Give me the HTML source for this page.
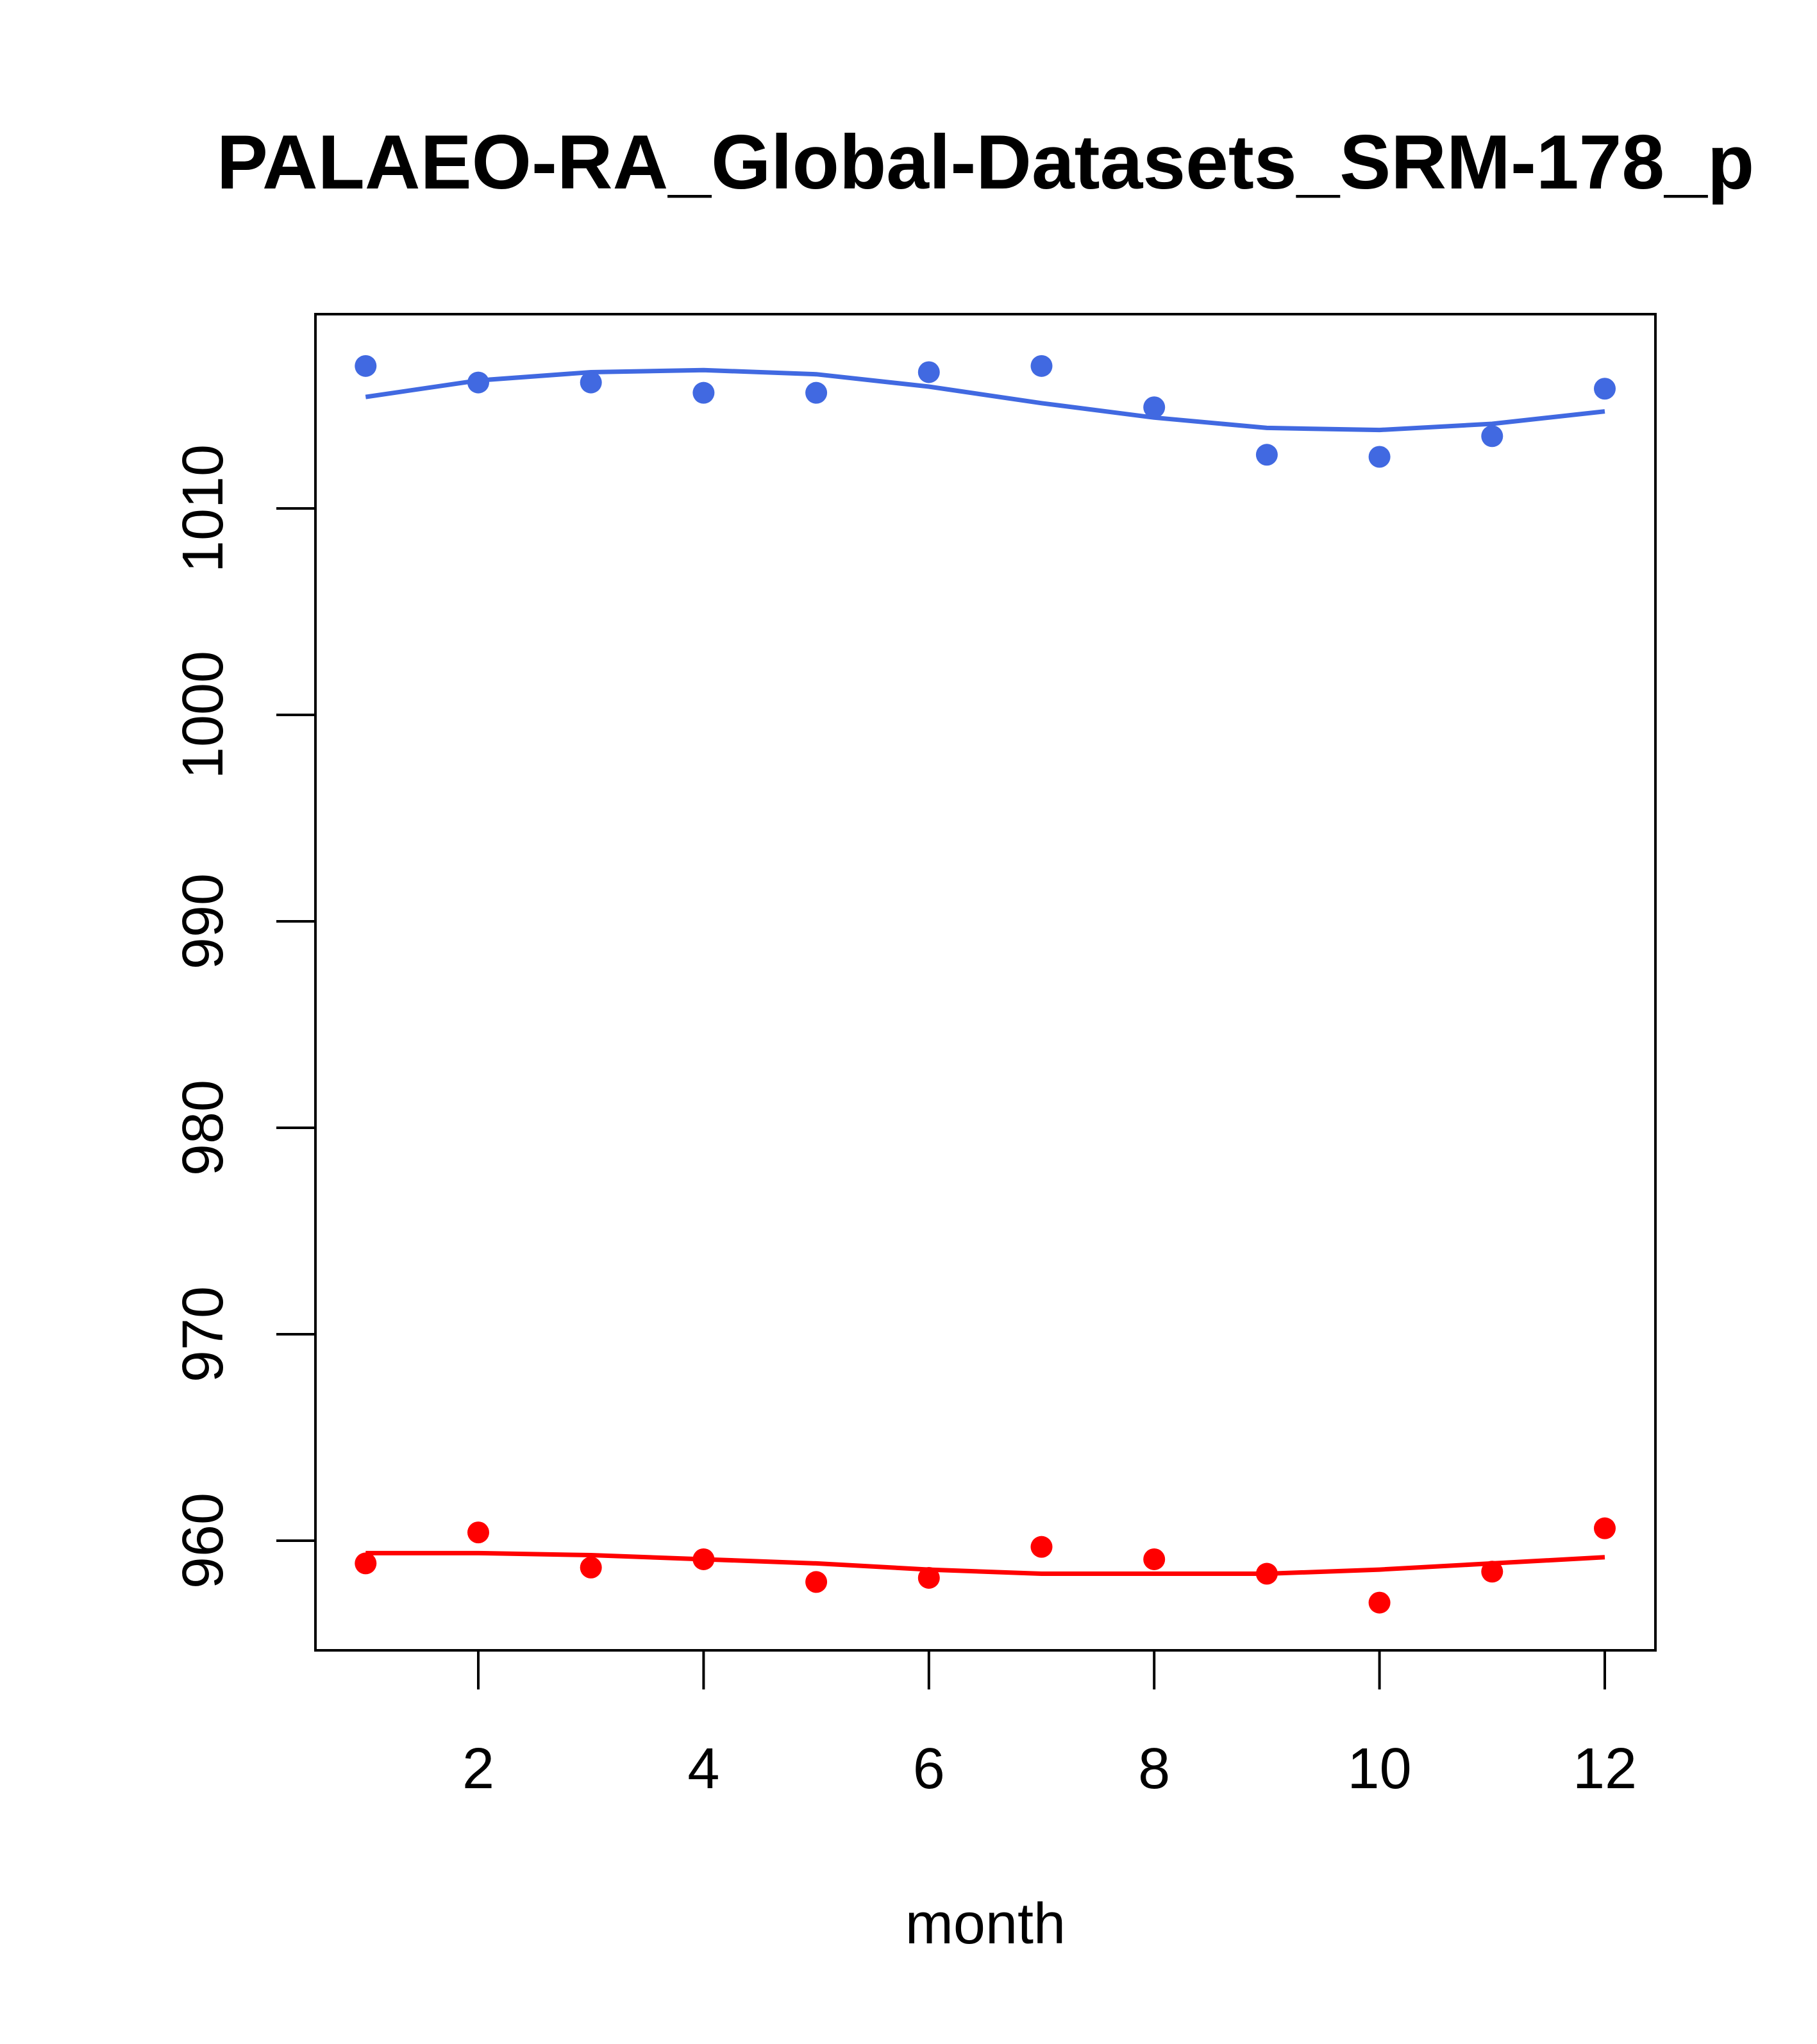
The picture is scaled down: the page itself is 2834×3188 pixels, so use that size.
<!DOCTYPE html>
<html><head><meta charset="utf-8"><style>
html,body{margin:0;padding:0;background:#fff;}
svg{display:block;font-family:"Liberation Sans",sans-serif;}
</style></head><body>
<svg id="chart" width="2834" height="3188" viewBox="0 0 2834 3188">
<text x="1537" y="294" text-anchor="middle" font-size="120" font-weight="bold">PALAEO-RA_Global-Datasets_SRM-178_p</text>
<rect x="492" y="490" width="2090" height="2084" fill="none" stroke="#000" stroke-width="4"/>
<g id="xaxis"></g>
<g id="yaxis"></g>
<text x="1537" y="3031" text-anchor="middle" font-size="90">month</text>
<g id="series"></g>
</svg>
<script>
const months=[1,2,3,4,5,6,7,8,9,10,11,12];
const bluePoints=[1016.9,1016.1,1016.1,1015.6,1015.6,1016.6,1016.9,1014.9,1012.6,1012.5,1013.5,1015.8];
const blueFit=[1015.4,1016.2,1016.6,1016.7,1016.5,1015.9,1015.1,1014.4,1013.9,1013.8,1014.1,1014.7];
const redPoints=[958.9,960.4,958.7,959.1,958.0,958.2,959.7,959.1,958.4,957.0,958.5,960.6];
const redFit=[959.4,959.4,959.3,959.1,958.9,958.6,958.4,958.4,958.4,958.6,958.9,959.2];
const xTicks=[2,4,6,8,10,12];
const yTicks=[960,970,980,990,1000,1010];
const NS="http://www.w3.org/2000/svg";
function X(v){return 746+(v-2)*(2503-746)/10;}
function Y(v){return 2403-(v-960)*(2403-793)/50;}
function mk(t,a,p){const e=document.createElementNS(NS,t);for(const k in a)e.setAttribute(k,a[k]);p.appendChild(e);return e;}
const xa=document.getElementById('xaxis'),ya=document.getElementById('yaxis'),se=document.getElementById('series');
xTicks.forEach(t=>{
 const l=mk('line',{x1:X(t),x2:X(t),y1:2574,y2:2635,stroke:'#000','stroke-width':4},xa);
 
 
 const tx=mk('text',{x:X(t),y:2789,'text-anchor':'middle','font-size':90},xa);tx.textContent=t;
 
 
});
yTicks.forEach(t=>{
 const l=mk('line',{x1:431,x2:492,y1:Y(t),y2:Y(t),stroke:'#000','stroke-width':4},ya);
 
 
 const tx=mk('text',{x:0,y:0,'text-anchor':'middle','font-size':90,transform:`translate(347,${Y(t)}) rotate(-90)`},ya);tx.textContent=t;
 
 
});
function series(pts,fit,col,name){
 const pl=mk('polyline',{points:months.map((m,i)=>X(m)+','+Y(fit[i])).join(' '),fill:'none',stroke:col,'stroke-width':7,'stroke-linejoin':'round'},se);
 
 
 months.forEach((m,i)=>{
  const c=mk('circle',{cx:X(m),cy:Y(pts[i]),r:17,fill:col},se);
  
  
 });
}
series(bluePoints,blueFit,'#4169E1','blue');
series(redPoints,redFit,'#FF0000','red');
</script>
</body></html>
